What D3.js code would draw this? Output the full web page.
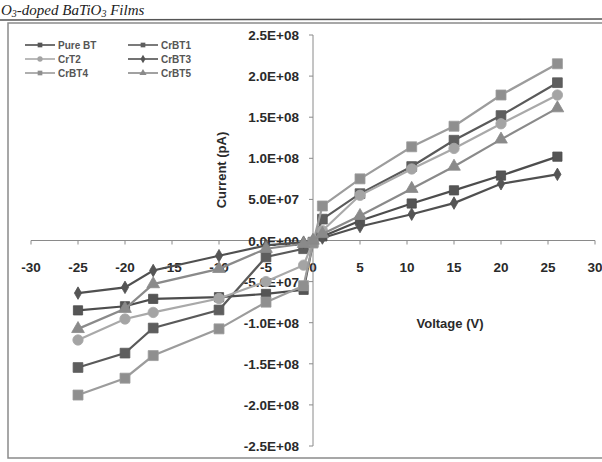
<!DOCTYPE html>
<html lang="en">
<head>
    <meta charset="UTF-8">
    <title>I-V curves</title>
    <script src="https://d3js.org/d3.v7.min.js"></script>
    <style>
        body {
            margin: 0;
            padding: 0;
            background-color: #fff;
        }
        svg {
            display: block;
            background-color: #fff;
        }
        .tick-label {
            font-family: 'Liberation Sans', Arial, sans-serif;
            font-weight: bold;
            font-size: 13.5px;
            fill: #2a2a2a;
        }
        .axis-title {
            font-family: 'Liberation Sans', Arial, sans-serif;
            font-weight: bold;
            font-size: 13px;
            fill: #2a2a2a;
        }
        .legend text {
            font-family: 'Liberation Sans', Arial, sans-serif;
            font-weight: bold;
            font-size: 10px;
            fill: #555;
        }
    </style>
</head>
<body>
    <svg width="602" height="462"></svg>
    <script>
        // voltage points (V)
        const voltage = [-25, -20, -17, -10, -5, -1, 0, 1, 5, 10.5, 15, 20, 26];

        // current (pA) per sample
        const pureBT = [-8.5e7, -8.0e7, -7.1e7, -6.9e7, -6.5e7, -6.0e7, -3e6, 5e6, 2.4e7, 4.5e7, 6.1e7, 7.9e7, 1.02e8];
        const crBT1  = [-1.545e8, -1.37e8, -1.065e8, -8.45e7, -2.0e7, -1.0e7, -2e6, 2.6e7, 5.7e7, 9.0e7, 1.22e8, 1.52e8, 1.92e8];
        const crT2   = [-1.21e8, -9.55e7, -8.75e7, -7.05e7, -5.0e7, -3.0e7, -2e6, 1.2e7, 5.5e7, 8.7e7, 1.12e8, 1.42e8, 1.77e8];
        const crBT3  = [-6.4e7, -5.7e7, -3.65e7, -1.85e7, -6e6, -2e6, 0, 3e6, 1.7e7, 3.2e7, 4.55e7, 6.9e7, 8.05e7];
        const crBT4  = [-1.88e8, -1.675e8, -1.40e8, -1.075e8, -7.5e7, -5.5e7, -3e6, 4.2e7, 7.5e7, 1.14e8, 1.39e8, 1.77e8, 2.15e8];
        const crBT5  = [-1.075e8, -8.3e7, -5.3e7, -3.45e7, -1.0e7, -4e6, 0, 8e6, 3.0e7, 6.3e7, 9.0e7, 1.23e8, 1.61e8];

        const seriesNames = ["Pure BT", "CrBT1", "CrT2", "CrBT3", "CrBT4", "CrBT5"];
        const seriesValues = [pureBT, crBT1, crT2, crBT3, crBT4, crBT5];

        const xTicks = [-30, -25, -20, -15, -10, -5, 0, 5, 10, 15, 20, 25, 30];
        const yTicks = [2.5e8, 2.0e8, 1.5e8, 1.0e8, 5.0e7, 0, -5.0e7, -1.0e8, -1.5e8, -2.0e8, -2.5e8];

        const styles = [
            { stroke: "#4d4d4d", fill: "#555", symbol: d3.symbolSquare, size: 85 },
            { stroke: "#5a5a5a", fill: "#5e5e5e", symbol: d3.symbolSquare, size: 95 },
            { stroke: "#a9a9a9", fill: "#a4a4a4", symbol: d3.symbolCircle, size: 85 },
            { stroke: "#505050", fill: "#555", symbol: d3.symbolDiamond, size: 45 },
            { stroke: "#9c9c9c", fill: "#8f8f8f", symbol: d3.symbolSquare, size: 100 },
            { stroke: "#8a8a8a", fill: "#8a8a8a", symbol: d3.symbolTriangle, size: 70 }
        ];

        const svg = d3.select("svg");

        // page title above the chart
        const title = svg.append("text")
            .attr("x", 1).attr("y", 14.5)
            .attr("font-family", "'Liberation Serif', 'Times New Roman', serif")
            .attr("font-style", "italic")
            .attr("font-size", 15)
            .attr("fill", "#222");
        title.append("tspan").text("O");
        title.append("tspan").attr("font-size", 10).attr("dy", 2.5).text("3");
        title.append("tspan").attr("dy", -2.5).text("-doped BaTiO");
        title.append("tspan").attr("font-size", 10).attr("dy", 2.5).text("3");
        title.append("tspan").attr("dy", -2.5).text(" Films");

        svg.append("line")
            .attr("x1", 0).attr("x2", 602).attr("y1", 20).attr("y2", 19)
            .attr("stroke", "#555").attr("stroke-width", 1.5);

        // chart frame
        svg.append("rect")
            .attr("x", 8).attr("y", 23).attr("width", 620).attr("height", 435)
            .attr("fill", "none").attr("stroke", "#8a8a8a").attr("stroke-width", 1.5);

        const x = d3.scaleLinear().domain([-30, 30]).range([31, 595]);
        const y = d3.scaleLinear().domain([-2.5e8, 2.5e8]).range([446, 35]);

        const fmt = v => {
            if (v === 0) return "0.0E+00";
            const e = Math.floor(Math.log10(Math.abs(v)));
            const m = v / Math.pow(10, e);
            return m.toFixed(1) + "E+" + String(e).padStart(2, "0");
        };

        // x axis through zero
        const xAxis = svg.append("g");
        xAxis.append("line")
            .attr("x1", x(-30)).attr("x2", x(30)).attr("y1", y(0)).attr("y2", y(0))
            .attr("stroke", "#8a8a8a").attr("stroke-width", 1);
        xAxis.selectAll(".xt").data(xTicks).enter().append("line")
            .attr("x1", d => x(d)).attr("x2", d => x(d))
            .attr("y1", y(0)).attr("y2", y(0) + 4)
            .attr("stroke", "#8a8a8a");
        xAxis.selectAll(".xl").data(xTicks).enter().append("text")
            .attr("class", "tick-label")
            .attr("x", d => x(d)).attr("y", y(0) + 31)
            .attr("text-anchor", "middle")
            .text(d => d);

        // y axis through zero
        const yAxis = svg.append("g");
        yAxis.append("line")
            .attr("x1", x(0)).attr("x2", x(0)).attr("y1", y(2.5e8)).attr("y2", y(-2.5e8))
            .attr("stroke", "#8a8a8a").attr("stroke-width", 1);
        yAxis.selectAll(".yt").data(yTicks).enter().append("line")
            .attr("x1", x(0) - 4).attr("x2", x(0))
            .attr("y1", d => y(d)).attr("y2", d => y(d))
            .attr("stroke", "#8a8a8a");
        yAxis.selectAll(".yl").data(yTicks).enter().append("text")
            .attr("class", "tick-label")
            .attr("x", x(0) - 14).attr("y", d => y(d) + 5)
            .attr("text-anchor", "end")
            .text(d => fmt(d));

        svg.append("text")
            .attr("class", "axis-title")
            .attr("transform", "translate(226,170) rotate(-90)")
            .attr("text-anchor", "middle")
            .text("Current (pA)");

        svg.append("text")
            .attr("class", "axis-title")
            .attr("x", 450).attr("y", 328)
            .attr("text-anchor", "middle")
            .text("Voltage (V)");

        // series
        const line = d3.line()
            .x((d, i) => x(voltage[i]))
            .y(d => y(d));

        seriesValues.forEach((vals, k) => {
            const st = styles[k];
            const g = svg.append("g");
            g.append("path")
                .datum(vals)
                .attr("d", line)
                .attr("fill", "none")
                .attr("stroke", st.stroke)
                .attr("stroke-width", 2.2);
            g.selectAll("path.mk").data(vals).enter().append("path")
                .attr("class", "mk")
                .attr("d", d3.symbol().type(st.symbol).size(st.size))
                .attr("transform", (d, i) => `translate(${x(voltage[i])},${y(d)})`)
                .attr("fill", st.fill)
                .attr("stroke", st.stroke)
                .attr("stroke-width", 0.8);
        });

        // legend
        const legend = svg.append("g").attr("class", "legend");
        seriesNames.forEach((name, k) => {
            const col = k % 2, row = Math.floor(k / 2);
            const lx = 25 + col * 103, ly = 45 + row * 14;
            const st = styles[k];
            legend.append("line")
                .attr("x1", lx).attr("x2", lx + 30).attr("y1", ly).attr("y2", ly)
                .attr("stroke", st.stroke).attr("stroke-width", 1.6);
            legend.append("path")
                .attr("d", d3.symbol().type(st.symbol).size(22))
                .attr("transform", `translate(${lx + 15},${ly})`)
                .attr("fill", st.fill);
            legend.append("text")
                .attr("x", lx + 33).attr("y", ly + 3.5)
                .text(name);
        });
    </script>
</body>
</html>
